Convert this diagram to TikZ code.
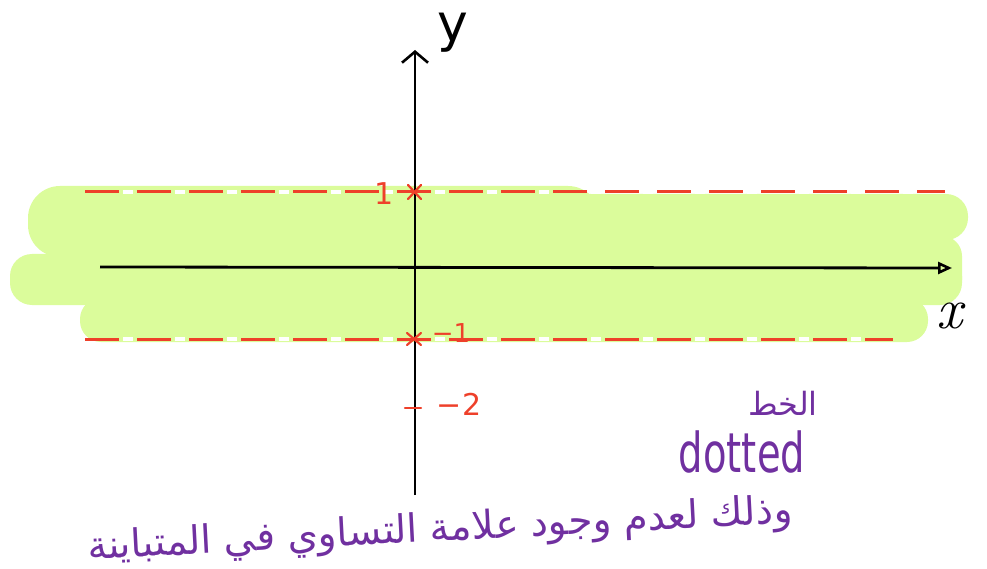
\documentclass[tikz,border=0pt]{standalone}
\usepackage{fontspec}
\newfontfamily\arabicfont[Script=Arabic]{DejaVu Sans}
\newfontfamily\handfont{DejaVu Sans}
\TeXXeTstate=1
\usetikzlibrary{arrows.meta}
\definecolor{bandgreen}{RGB}{219,252,155}
\definecolor{markred}{RGB}{238,64,42}
\definecolor{notepurple}{RGB}{112,48,160}
\begin{document}
\begin{tikzpicture}[x=1pt,y=-1pt,
  band/.style={fill=bandgreen},
  boundary/.style={draw=markred, line width=3pt, dash pattern=on 34pt off 18pt},
  gapline/.style={draw=white, line width=4pt, dash pattern=on 0pt off 38pt on 10pt off 4pt},
  axisline/.style={draw=black, line width=2.8pt},
  redmark/.style={draw=markred, line width=2.2pt, line cap=round},
  redlabel/.style={text=markred, inner sep=0pt},
  note/.style={text=notepurple, inner sep=0pt},
  axislabel/.style={text=black, inner sep=0pt}]
\useasboundingbox (0,0) rectangle (987,569);
% shaded band
\fill[band, rounded corners=32pt] (28,186) rectangle (600,257);
\fill[band, rounded corners=22pt] (300,194) rectangle (968,240);
\fill[band, rounded corners=22pt] (10,254) rectangle (962,305);
\fill[band, rounded corners=20pt] (140,236) rectangle (962,300);
\fill[band, rounded corners=21pt] (80,298) rectangle (928,342);
% boundary lines
\coordinate (tl) at (85,192);  \coordinate (tr) at (945,192);
\coordinate (bl) at (85,339);  \coordinate (br) at (893,339);
\draw[gapline] (tl) -- (tr);
\draw[gapline] (bl) -- (br);
\draw[boundary] (tl) -- (tr);
\draw[boundary] (bl) -- (br);
% axes
\coordinate (xs) at (100,267); \coordinate (xe) at (952,268);
\coordinate (ys) at (415,495); \coordinate (ye) at (415,50);
\draw[axisline, -{Triangle[open,length=14pt,width=12pt,line width=2.6pt]}] (xs) -- (xe);
\draw[axisline, -{Straight Barb[length=11pt,width=26pt,line width=2.6pt]}] (ys) -- (ye);
\node[axislabel, font=\handfont\fontsize{52}{52}\selectfont] (ylab) at (453,33) {y};
\node[axislabel, font=\fontsize{58}{58}\selectfont\itshape] (xlab) at (950,316) {x};
% marks on the y-axis
\draw[redmark] (408,185) -- (421,199);
\draw[redmark] (421,185) -- (408,199);
\draw[redmark] (407,333) -- (421,345);
\draw[redmark] (421,333) -- (407,345);
\draw[redmark] (405,408) -- (421,408);
\node[redlabel, font=\handfont\fontsize{30}{30}\selectfont] (one) at (384,194) {1};
\node[redlabel, font=\handfont\fontsize{26}{26}\selectfont] (mone) at (451,333) {\textminus1};
\node[redlabel, font=\handfont\fontsize{30}{30}\selectfont] (mtwo) at (459,404) {\textminus2};
% notes
\node[note, font=\arabicfont\fontsize{32}{38}\selectfont] (khat) at (783,403) {\beginR الخط\endR};
\node[note, font=\handfont\fontsize{55}{55}\selectfont] (dotted) at (742,452) {\scalebox{0.7}[1]{dotted}};
\node[note, rotate=3, font=\arabicfont\fontsize{39}{45}\selectfont] (reason) at (440,531) {\beginR وذلك لعدم وجود علامة التساوي في المتباينة\endR};
\end{tikzpicture}
\end{document}
